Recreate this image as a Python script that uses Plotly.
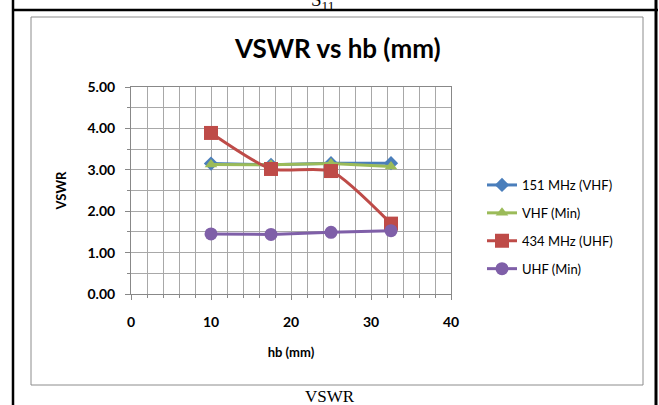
import plotly.graph_objects as go

hb = [10, 17.5, 25, 32.5]
vhf_151 = [3.15, 3.12, 3.16, 3.16]
vhf_min = [3.13, 3.12, 3.15, 3.08]
uhf_434 = [3.89, 3.02, 2.97, 1.70]
uhf_min = [1.45, 1.44, 1.49, 1.53]

names = ["151 MHz (VHF)", "VHF (Min)", "434 MHz (UHF)", "UHF (Min)"]
series = [vhf_151, vhf_min, uhf_434, uhf_min]
colors = ["#4A7EBB", "#9BBB59", "#BE4B48", "#7F5FA8"]
symbols = ["diamond", "triangle-up", "square", "circle"]
msizes = [11, 11, 14, 13]
shapes_line = ["linear", "linear", "spline", "linear"]

W, H = 659, 405
FONT = "Lato"

fig = go.Figure()
for n, s, c, sym, ms, sh in zip(names, series, colors, symbols, msizes, shapes_line):
    fig.add_trace(go.Scatter(
        x=hb, y=s, name=n, legendgroup=n, mode="lines+markers",
        line=dict(color=c, width=3, shape=sh, smoothing=0.6),
        marker=dict(symbol=sym, size=ms, color=c, line=dict(width=0)),
    ))

def px(x):
    return x / W

def py(y):
    return 1 - y / H

grid = "#A8A8A8"
fig.update_layout(
    width=W, height=H,
    margin=dict(l=0, r=0, t=0, b=0, autoexpand=False),
    paper_bgcolor="white", plot_bgcolor="white",
    font=dict(family=FONT, size=13, color="black"),
    showlegend=True,
    legend=dict(x=px(482), y=py(170), xanchor="left", yanchor="top",
                font=dict(family=FONT, size=13, color="black"),
                tracegroupgap=8, bgcolor="rgba(0,0,0,0)", itemwidth=30),
    xaxis=dict(domain=[px(131), px(451)], range=[0, 40], dtick=10, automargin=False,
               showgrid=True, gridcolor=grid, gridwidth=1,
               minor=dict(dtick=2, showgrid=True, gridcolor=grid, gridwidth=1,
                          ticks="outside", ticklen=3, tickcolor="#888"),
               showline=True, linecolor="#888", linewidth=1, mirror=True,
               ticks="outside", ticklen=5, tickcolor="#888", ticklabelstandoff=10,
               tickfont=dict(family=FONT, size=14, color="black", weight="bold"),
               title=dict(text="<b>hb (mm)</b>", font=dict(family=FONT, size=13), standoff=19),
               zeroline=False),
    yaxis=dict(domain=[py(294), py(87)], range=[0, 5], dtick=1, tickformat=".2f", automargin=False,
               showgrid=True, gridcolor=grid, gridwidth=1,
               minor=dict(dtick=0.5, showgrid=True, gridcolor=grid, gridwidth=1,
                          ticks="outside", ticklen=3, tickcolor="#888"),
               showline=True, linecolor="#888", linewidth=1, mirror=True,
               ticks="outside", ticklen=5, tickcolor="#888", ticklabelstandoff=7,
               tickfont=dict(family=FONT, size=14, color="black", weight="bold"),
               title=dict(text="<b>VSWR</b>", font=dict(family=FONT, size=13), standoff=17),
               zeroline=False),
)

fig.add_annotation(text="<b>VSWR vs hb (mm)</b>", x=px(337), y=py(48), xref="paper", yref="paper",
                   showarrow=False, font=dict(family=FONT, size=26, color="black"),
                   xanchor="center", yanchor="middle")
fig.add_annotation(text="S<sub>11</sub>", x=px(322), y=py(15), xref="paper", yref="paper",
                   showarrow=False, font=dict(family="Liberation Serif", size=19, color="black"),
                   xanchor="center", yanchor="bottom")
fig.add_annotation(text="VSWR", x=px(330), y=py(396), xref="paper", yref="paper",
                   showarrow=False, font=dict(family="Liberation Serif", size=17, color="black"),
                   xanchor="center", yanchor="middle")

# page borders
fig.add_shape(type="line", xref="paper", yref="paper", x0=px(13), x1=px(13), y0=0, y1=1,
              line=dict(color="black", width=2.5))
fig.add_shape(type="line", xref="paper", yref="paper", x0=px(656), x1=px(656), y0=0, y1=1,
              line=dict(color="black", width=3))
fig.add_shape(type="line", xref="paper", yref="paper", x0=px(12), x1=px(658), y0=py(10), y1=py(10),
              line=dict(color="black", width=2.5))
# chart area border
fig.add_shape(type="rect", xref="paper", yref="paper", x0=px(31), x1=px(643), y0=py(385), y1=py(17),
              line=dict(color="#8C8C8C", width=1))

fig.write_html("out.html")
